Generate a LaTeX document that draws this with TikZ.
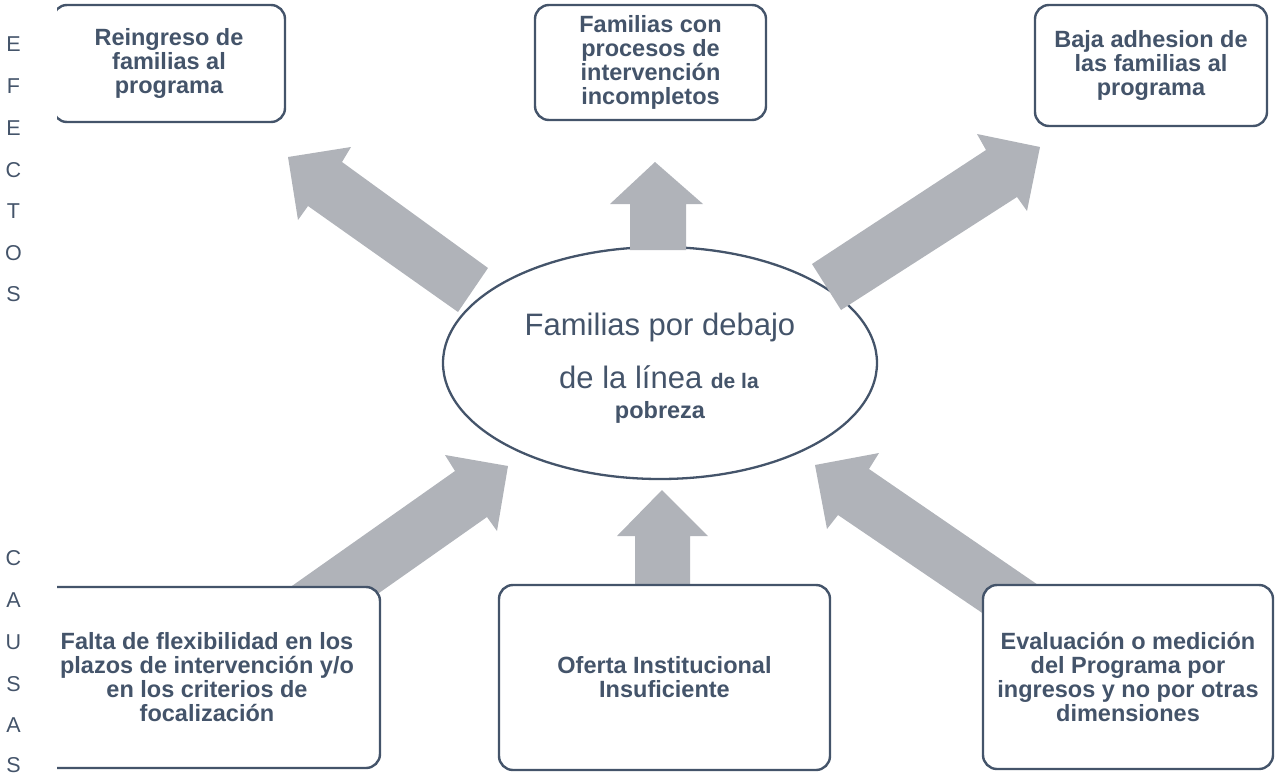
\documentclass[tikz,border=0pt]{standalone}
\usepackage{fontspec}
\setmainfont{Liberation Sans}
\usetikzlibrary{shapes.geometric}
\definecolor{slate}{HTML}{44546A}
\definecolor{agray}{HTML}{B0B3B9}
\begin{document}
\begin{tikzpicture}[x=1pt,y=-1pt,
  boxst/.style={draw=slate, line width=2.4pt, rounded corners=14pt, fill=white,
    align=center, text=slate, inner sep=0pt,
    font=\fontsize{23.5}{24}\selectfont\bfseries},
  side/.style={text=slate, inner sep=0pt, font=\fontsize{21.5}{21.5}\selectfont},
  blockarrow/.style={fill=agray, draw=none},
  bigtxt/.style={text=slate, inner sep=0pt, anchor=base, font=\fontsize{31}{31}\selectfont},
  smalltxt/.style={text=slate, inner sep=0pt, anchor=base, font=\fontsize{23.5}{24}\selectfont\bfseries}]
\useasboundingbox (0,0) rectangle (1275,777);

% side labels
\foreach \l/\y [count=\i] in {E/44,F/86,E/128,C/170,T/211,O/253,S/294}
  \node[side] (ef\i) at (13.5,\y) {\l};
\foreach \l/\y [count=\i] in {C/558,A/600,U/642,S/684,A/725,S/765}
  \node[side] (ca\i) at (13.5,\y) {\l};

% central ellipse
\node[draw=slate, line width=2.3pt, ellipse, fill=white, minimum width=434pt,
  minimum height=232pt, inner sep=0pt] (core) at (660,363) {};
\node[bigtxt] (core1) at (660,335) {Familias por debajo};
\node[bigtxt] (core2) at (659,388) {de la línea {\fontsize{21}{21}\selectfont\bfseries de la}};
\node[smalltxt] (core3) at (660,418) {pobreza};

% block arrows
\fill[blockarrow] (488,268) -- (342,162) -- (351,147) -- (288,157) -- (298,220) -- (308,206) -- (458,312) -- cycle;
\fill[blockarrow] (630,250) -- (630,204) -- (610,204) -- (655,162) -- (703,204) -- (686,204) -- (686,250) -- cycle;
\fill[blockarrow] (812,264) -- (986,150) -- (977,134) -- (1040,147) -- (1027,211) -- (1017,197) -- (841,310) -- cycle;
\fill[blockarrow] (272,600) -- (455,471) -- (445,455) -- (508,466) -- (497,531) -- (487,517) -- (369,600) -- cycle;
\fill[blockarrow] (635,595) -- (635,536) -- (617,536) -- (662,490) -- (708,536) -- (690,536) -- (690,595) -- cycle;
\fill[blockarrow] (1060,600) -- (869,469) -- (879,453) -- (815,465) -- (827,529) -- (838,515) -- (1000,625) -- cycle;

% boxes
\begin{scope}
\clip (57,-20) rectangle (1300,800);
\node[boxst, minimum width=232pt, minimum height=117pt] (eff1) at (169,63.5)
  {Reingreso de\\familias al\\programa};
\node[boxst, minimum width=231pt, minimum height=115pt] (eff2) at (650.5,62.5)
  {Familias con\\procesos de\\intervención\\incompletos};
\node[boxst, minimum width=232pt, minimum height=121pt] (eff3) at (1151,65.5)
  {Baja adhesion de\\las familias al\\programa};
\node[boxst, minimum width=346pt, minimum height=181pt] (cau1) at (207,677.5)
  {Falta de flexibilidad en los\\plazos de intervención y/o\\en los criterios de\\focalización};
\node[boxst, minimum width=331pt, minimum height=185pt] (cau2) at (664.5,677.5)
  {Oferta Institucional\\Insuficiente};
\node[boxst, minimum width=290pt, minimum height=184pt] (cau3) at (1128,677)
  {Evaluación o medición\\del Programa por\\ingresos y no por otras\\dimensiones};
\end{scope}
\end{tikzpicture}
\end{document}
